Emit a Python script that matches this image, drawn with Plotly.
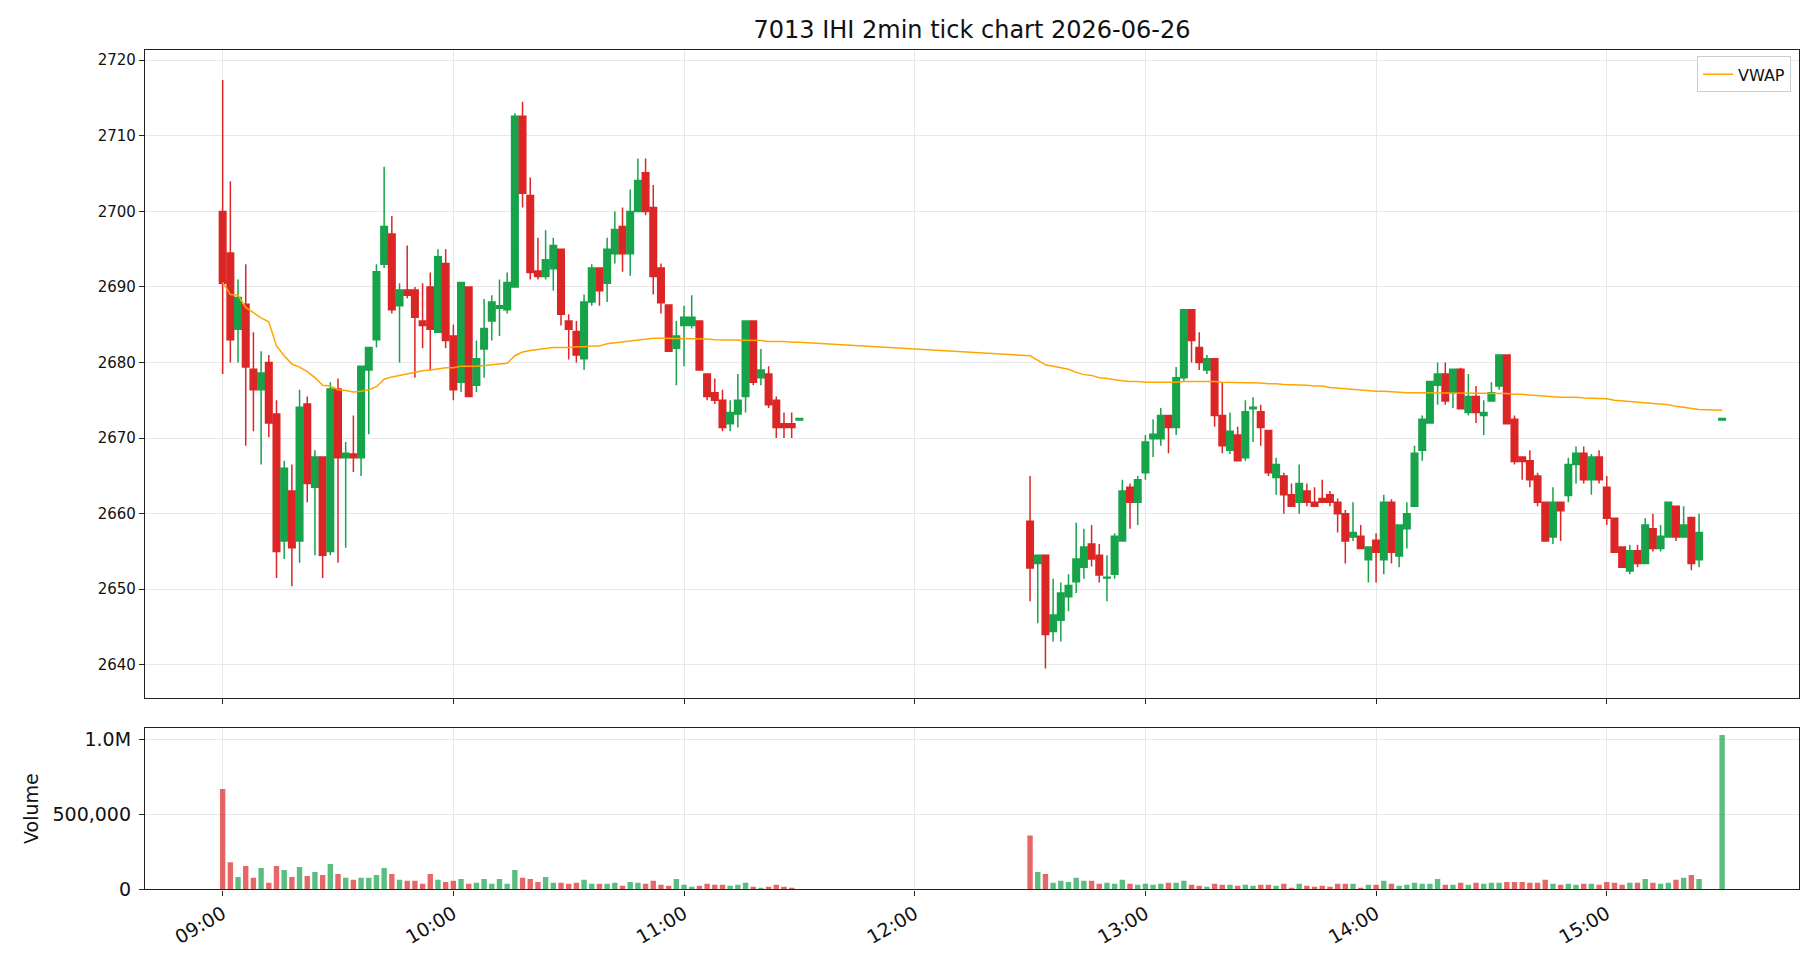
import pandas as pd
import plotly.graph_objects as go

# ---------------- data ----------------
DAY = "2026-06-26"
title_text = "7013 IHI 2min tick chart 2026-06-26"

am_open = [2700.0, 2694.5, 2684.4, 2687.7, 2679.1, 2676.4, 2680.0, 2673.2, 2656.4, 2663.0,
           2656.4, 2674.5, 2663.5, 2667.5, 2655.0, 2676.5, 2667.4, 2667.9, 2667.4, 2679.0,
           2683.0, 2693.0, 2697.0, 2687.5, 2689.6, 2689.6, 2685.5, 2690.0, 2684.0, 2693.1,
           2683.5, 2677.4, 2690.0, 2677.0, 2681.8, 2685.5, 2687.2, 2687.0, 2690.0, 2712.6,
           2702.1, 2692.1, 2691.4, 2692.4, 2695.0, 2685.5, 2684.1, 2680.5, 2688.0, 2692.5,
           2690.5, 2694.4, 2698.0, 2694.4, 2700.0, 2705.1, 2700.5, 2692.5, 2687.6, 2681.9,
           2684.9, 2684.9, 2685.5, 2678.5, 2676.0, 2675.0, 2671.9, 2673.2, 2675.5, 2685.5,
           2678.0, 2678.5, 2675.0, 2671.9, 2671.9, 2672.4]
am_high = [2717.4, 2704.0, 2691.0, 2693.0, 2684.0, 2681.5, 2681.0, 2675.0, 2667.0, 2666.5,
           2676.4, 2675.5, 2668.4, 2667.5, 2677.4, 2677.9, 2669.5, 2673.0, 2679.5, 2682.0,
           2693.0, 2705.9, 2699.4, 2690.5, 2695.5, 2690.0, 2690.5, 2691.9, 2695.0, 2695.0,
           2685.0, 2690.6, 2690.0, 2682.9, 2688.4, 2688.9, 2691.0, 2691.9, 2713.0, 2714.5,
           2704.5, 2696.5, 2697.5, 2696.5, 2695.0, 2686.4, 2685.5, 2689.0, 2693.0, 2692.5,
           2696.5, 2700.0, 2700.5, 2702.9, 2707.0, 2707.0, 2703.5, 2693.1, 2687.6, 2685.5,
           2687.5, 2688.9, 2685.5, 2678.5, 2677.9, 2676.4, 2675.0, 2678.5, 2685.5, 2685.5,
           2681.8, 2679.5, 2675.5, 2673.4, 2673.4, 2672.6]
am_low = [2678.5, 2680.0, 2680.0, 2669.0, 2670.9, 2666.5, 2670.1, 2651.5, 2654.0, 2650.4,
          2653.5, 2661.5, 2654.5, 2651.5, 2654.5, 2653.5, 2655.5, 2665.5, 2665.0, 2670.5,
          2682.0, 2692.5, 2686.5, 2680.0, 2688.5, 2678.0, 2681.9, 2679.0, 2684.0, 2681.9,
          2675.0, 2676.1, 2675.5, 2676.1, 2678.0, 2682.9, 2683.5, 2686.5, 2690.0, 2700.5,
          2691.0, 2691.0, 2691.0, 2689.5, 2684.9, 2680.4, 2680.0, 2679.0, 2687.5, 2687.5,
          2688.0, 2693.1, 2692.0, 2691.5, 2700.0, 2699.5, 2689.0, 2686.5, 2681.5, 2677.0,
          2679.5, 2684.5, 2679.0, 2675.0, 2674.5, 2670.9, 2670.9, 2671.4, 2673.4, 2677.0,
          2677.0, 2674.0, 2670.0, 2670.0, 2670.0, 2672.4]
am_close = [2690.5, 2683.0, 2688.6, 2679.4, 2676.4, 2678.6, 2672.0, 2655.0, 2666.0, 2655.5,
            2674.1, 2664.0, 2667.5, 2654.5, 2676.5, 2667.4, 2668.0, 2667.4, 2679.5, 2682.0,
            2692.0, 2698.0, 2687.0, 2689.6, 2688.9, 2686.0, 2684.9, 2684.4, 2694.0, 2682.9,
            2676.4, 2690.6, 2675.5, 2680.5, 2684.5, 2688.0, 2687.5, 2690.6, 2712.6, 2702.4,
            2691.9, 2691.4, 2693.6, 2695.5, 2686.4, 2684.4, 2681.0, 2688.0, 2692.5, 2689.5,
            2695.0, 2697.6, 2694.4, 2700.0, 2704.1, 2700.0, 2691.4, 2687.9, 2681.5, 2683.5,
            2686.0, 2686.0, 2679.0, 2675.5, 2675.0, 2671.4, 2673.4, 2675.0, 2685.5, 2677.4,
            2679.0, 2674.4, 2671.4, 2671.4, 2671.4, 2672.6]
am_volume = [670000, 182000, 83000, 156000, 77000, 143000, 44000, 156000, 129000, 83000,
             149000, 90000, 116000, 96000, 169000, 103000, 77000, 64000, 77000, 77000,
             96000, 143000, 103000, 64000, 57000, 57000, 37000, 103000, 64000, 50000,
             57000, 70000, 37000, 44000, 70000, 37000, 70000, 37000, 129000, 77000,
             70000, 50000, 83000, 44000, 44000, 37000, 44000, 64000, 37000, 37000,
             37000, 44000, 24000, 50000, 44000, 37000, 57000, 31000, 24000, 70000,
             31000, 18000, 24000, 37000, 31000, 31000, 24000, 31000, 44000, 18000,
             11000, 18000, 31000, 18000, 11000, 3000]
am_vwap = [2690.6, 2689.0, 2688.9, 2687.3, 2686.6, 2685.9, 2685.4, 2682.2, 2680.9, 2679.8,
           2679.4, 2678.8, 2678.0, 2677.0, 2676.9, 2676.4, 2676.3, 2676.1, 2676.2, 2676.4,
           2676.8, 2677.8, 2678.1, 2678.3, 2678.6, 2678.7, 2678.9, 2679.0, 2679.2, 2679.3,
           2679.3, 2679.5, 2679.5, 2679.5, 2679.6, 2679.7, 2679.8, 2679.9, 2680.9, 2681.4,
           2681.6, 2681.7, 2681.8, 2682.0, 2682.0, 2682.0, 2682.1, 2682.1, 2682.2, 2682.2,
           2682.5, 2682.6, 2682.7, 2682.8, 2683.0, 2683.1, 2683.2, 2683.2, 2683.2, 2683.2,
           2683.2, 2683.2, 2683.1, 2683.1, 2683.0, 2683.0, 2683.0, 2683.0, 2682.9, 2682.9,
           2682.9, 2682.8, 2682.8, 2682.8, 2682.7, 2682.7]

pm_open = [2659.0, 2653.4, 2654.5, 2644.4, 2645.9, 2649.0, 2651.0, 2652.9, 2656.0, 2654.5,
           2651.5, 2652.0, 2656.4, 2663.5, 2661.5, 2665.4, 2669.9, 2669.9, 2673.0, 2671.4,
           2678.0, 2687.0, 2682.0, 2679.0, 2680.5, 2673.0, 2668.4, 2670.4, 2667.4, 2673.9,
           2673.5, 2671.0, 2664.8, 2665.0, 2662.5, 2661.5, 2663.0, 2661.5, 2662.0, 2662.5,
           2661.5, 2660.0, 2656.9, 2657.0, 2653.9, 2656.5, 2653.9, 2661.5, 2654.4, 2658.0,
           2661.0, 2668.4, 2672.0, 2677.0, 2678.5, 2676.0, 2679.1, 2673.4, 2675.5, 2673.0,
           2674.9, 2676.9, 2681.0, 2672.5, 2667.5, 2667.0, 2665.0, 2661.5, 2656.9, 2661.5,
           2662.4, 2666.5, 2668.0, 2664.5, 2667.5, 2663.5, 2659.4, 2655.6, 2652.4, 2655.1,
           2653.4, 2658.0, 2655.4, 2656.9, 2661.0, 2656.9, 2659.5, 2653.9, 2672.4]
pm_high = [2665.0, 2654.5, 2654.5, 2651.4, 2650.9, 2652.0, 2658.8, 2658.0, 2658.5, 2656.0,
           2654.5, 2657.4, 2664.5, 2664.0, 2665.0, 2670.4, 2672.5, 2674.0, 2673.0, 2679.4,
           2687.0, 2687.0, 2684.0, 2681.0, 2680.5, 2677.3, 2673.4, 2671.5, 2675.0, 2675.4,
           2674.4, 2671.0, 2667.4, 2665.4, 2664.0, 2666.5, 2664.0, 2663.5, 2664.5, 2663.0,
           2662.0, 2660.5, 2661.5, 2658.5, 2655.6, 2657.4, 2662.5, 2661.9, 2658.5, 2661.5,
           2669.0, 2673.0, 2677.5, 2680.0, 2680.0, 2679.1, 2679.3, 2678.5, 2676.9, 2675.0,
           2677.4, 2681.0, 2681.0, 2673.0, 2667.5, 2668.4, 2665.4, 2661.5, 2663.5, 2661.5,
           2667.4, 2668.9, 2668.9, 2667.9, 2668.4, 2665.0, 2659.4, 2655.6, 2655.9, 2655.9,
           2659.4, 2660.0, 2658.5, 2661.5, 2661.0, 2661.0, 2659.5, 2660.0, 2672.6]
pm_low = [2648.4, 2645.5, 2639.5, 2643.1, 2643.1, 2647.1, 2649.5, 2651.4, 2653.0, 2650.9,
          2648.4, 2651.4, 2656.4, 2658.0, 2658.5, 2664.5, 2667.5, 2669.0, 2668.0, 2670.4,
          2677.6, 2680.0, 2679.0, 2678.5, 2671.5, 2668.0, 2667.9, 2667.0, 2667.0, 2669.5,
          2669.0, 2665.0, 2662.5, 2660.0, 2661.0, 2660.0, 2661.0, 2661.0, 2661.5, 2661.0,
          2657.5, 2653.4, 2656.4, 2655.4, 2650.9, 2650.9, 2652.0, 2653.4, 2652.9, 2655.4,
          2661.0, 2667.0, 2672.0, 2674.4, 2674.4, 2674.0, 2673.9, 2673.0, 2672.0, 2670.4,
          2674.9, 2676.4, 2671.9, 2666.5, 2664.5, 2663.5, 2661.0, 2656.4, 2656.0, 2656.4,
          2661.5, 2664.0, 2664.0, 2662.5, 2664.0, 2658.5, 2654.9, 2652.9, 2652.0, 2652.9,
          2653.4, 2655.0, 2655.0, 2656.9, 2656.4, 2656.9, 2652.5, 2652.9, 2672.4]
pm_close = [2652.8, 2654.5, 2644.0, 2646.6, 2649.5, 2650.5, 2654.0, 2655.6, 2654.0, 2651.9,
            2651.6, 2657.0, 2663.0, 2661.5, 2664.5, 2669.5, 2670.5, 2673.0, 2671.4, 2678.0,
            2687.0, 2682.9, 2680.0, 2680.5, 2673.0, 2669.0, 2670.9, 2667.0, 2673.5, 2674.1,
            2671.4, 2665.4, 2666.5, 2662.5, 2661.0, 2664.0, 2661.5, 2661.0, 2661.5, 2661.5,
            2660.0, 2656.4, 2657.5, 2655.4, 2655.6, 2654.9, 2661.5, 2654.9, 2658.5, 2660.0,
            2668.0, 2672.5, 2677.5, 2678.5, 2674.9, 2679.1, 2673.9, 2675.5, 2673.4, 2673.4,
            2676.0, 2681.0, 2671.9, 2666.9, 2666.9, 2664.5, 2661.5, 2656.4, 2661.5, 2660.4,
            2666.5, 2668.0, 2664.5, 2667.5, 2664.5, 2659.4, 2654.9, 2652.9, 2655.1, 2653.4,
            2658.5, 2655.4, 2657.0, 2661.5, 2656.9, 2658.5, 2653.4, 2657.5, 2672.6]
pm_volume = [360000, 116000, 103000, 44000, 57000, 50000, 77000, 57000, 57000, 37000,
             44000, 37000, 64000, 37000, 31000, 37000, 31000, 37000, 44000, 44000,
             57000, 31000, 24000, 18000, 37000, 31000, 31000, 24000, 31000, 24000,
             31000, 31000, 24000, 37000, 11000, 37000, 24000, 18000, 24000, 18000,
             37000, 37000, 37000, 11000, 31000, 31000, 57000, 37000, 24000, 31000,
             44000, 37000, 37000, 70000, 31000, 31000, 44000, 31000, 44000, 37000,
             44000, 44000, 50000, 50000, 50000, 44000, 44000, 64000, 37000, 31000,
             37000, 31000, 37000, 37000, 31000, 50000, 44000, 31000, 44000, 44000,
             70000, 44000, 37000, 44000, 64000, 77000, 96000, 70000, 1030000]
pm_vwap = [2680.9, 2680.3, 2679.7, 2679.5, 2679.3, 2679.1, 2678.7, 2678.4, 2678.3, 2678.0,
           2677.9, 2677.7, 2677.6, 2677.5, 2677.5, 2677.4, 2677.4, 2677.4, 2677.4, 2677.4,
           2677.5, 2677.5, 2677.5, 2677.5, 2677.5, 2677.4, 2677.4, 2677.4, 2677.4, 2677.3,
           2677.3, 2677.2, 2677.2, 2677.1, 2677.1, 2677.0, 2677.0, 2676.9, 2676.9, 2676.7,
           2676.6, 2676.5, 2676.5, 2676.4, 2676.3, 2676.2, 2676.2, 2676.1, 2676.1, 2676.0,
           2676.0, 2676.0, 2676.0, 2675.9, 2675.9, 2675.9, 2675.9, 2675.9, 2675.9, 2675.9,
           2675.9, 2675.9, 2675.9, 2675.8, 2675.8, 2675.7, 2675.6, 2675.5, 2675.5, 2675.4,
           2675.4, 2675.4, 2675.3, 2675.3, 2675.2, 2675.2, 2675.0, 2674.9, 2674.9, 2674.8,
           2674.7, 2674.6, 2674.5, 2674.4, 2674.2, 2674.1, 2673.9, 2673.8, 2673.7]

vol_tickvals = [0, 500000, 1000000]
vol_ticktext = ["0", "500,000", "1.0M"]
price_ticks = [2640, 2650, 2660, 2670, 2680, 2690, 2700, 2710, 2720]
time_ticks = ["09:00", "10:00", "11:00", "12:00", "13:00", "14:00", "15:00"]

# ---------------- build ----------------
am_times = list(pd.date_range(f"{DAY} 09:00", periods=len(am_open), freq="2min"))
pm_times = list(pd.date_range(f"{DAY} 12:30", periods=len(pm_open) - 1, freq="2min"))
pm_times.append(pd.Timestamp(f"{DAY} 15:30"))
times = am_times + pm_times

o = am_open + pm_open
h = am_high + pm_high
l = am_low + pm_low
c = am_close + pm_close
vol = am_volume + pm_volume
vwap = am_vwap + pm_vwap

UP = "#16a34a"
DOWN = "#dc2626"
UP_V = "rgba(22,163,74,0.7)"
DOWN_V = "rgba(220,38,38,0.7)"
vol_colors = [UP_V if cc >= oo else DOWN_V for oo, cc in zip(o, c)]

FONT = "DejaVu Sans, sans-serif"
W, H = 1820, 980
x0, x1 = 145 / W, 1799 / W
main_dom = [1 - 706 / H, 1 - 51 / H]
vol_dom = [1 - 899.5 / H, 1 - 736 / H]

fig = go.Figure()
fig.add_trace(go.Candlestick(
    x=times, open=o, high=h, low=l, close=c,
    increasing=dict(line=dict(color=UP, width=1.5), fillcolor=UP),
    decreasing=dict(line=dict(color=DOWN, width=1.5), fillcolor=DOWN),
    whiskerwidth=0, showlegend=False, xaxis="x", yaxis="y", name="price"))
fig.add_trace(go.Scatter(
    x=times, y=vwap, mode="lines", name="VWAP",
    line=dict(color="#FFA500", width=1.5), xaxis="x", yaxis="y"))
fig.add_trace(go.Bar(
    x=times, y=vol, marker=dict(color=vol_colors, line=dict(width=0)),
    width=84000, showlegend=False, xaxis="x2", yaxis="y2", name="Volume"))

xr = [f"{DAY} 08:39:48", f"{DAY} 15:50:00"]
grid = "#e8e8e8"


def axis_style(size):
    return dict(showline=True, linecolor="#222", linewidth=1.3, mirror=True,
                ticks="outside", ticklen=5, tickwidth=1.2, tickcolor="#222",
                showgrid=True, gridcolor=grid, gridwidth=1, zeroline=False,
                tickfont=dict(family=FONT, size=size, color="#111"))


tickvals_t = [pd.Timestamp(f"{DAY} {t}") for t in time_ticks]

fig.update_layout(
    width=W, height=H, margin=dict(l=0, r=0, t=0, b=0),
    paper_bgcolor="white", plot_bgcolor="white",
    font=dict(family=FONT, size=15, color="#111"),
    title=dict(text=title_text, x=972 / W, xanchor="center", y=1 - 30 / H, yanchor="middle",
               font=dict(family=FONT, size=24, color="#111")),
    boxgap=0.15, boxgroupgap=0,
    showlegend=True,
    legend=dict(x=1791 / W, y=1 - 57 / H, xanchor="right", yanchor="top",
                bgcolor="rgba(255,255,255,0.9)", bordercolor="#cccccc", borderwidth=1,
                font=dict(family=FONT, size=16, color="#111")),
    xaxis=dict(domain=[x0, x1], anchor="y", range=xr, type="date",
               tickvals=tickvals_t, ticktext=time_ticks, showticklabels=False,
               rangeslider=dict(visible=False), **axis_style(15)),
    xaxis2=dict(domain=[x0, x1], anchor="y2", range=xr, type="date", matches="x",
                tickvals=tickvals_t, ticktext=time_ticks, tickangle=-30, **axis_style(19)),
    yaxis=dict(domain=main_dom, anchor="x", range=[2635.6, 2721.3],
               tickvals=price_ticks, **axis_style(15)),
    yaxis2=dict(domain=vol_dom, anchor="x2", range=[0, 1079000],
                tickvals=vol_tickvals, ticktext=vol_ticktext, ticklabelstandoff=4,
                title=dict(text="Volume", font=dict(family=FONT, size=19, color="#111"), standoff=8),
                **axis_style(19)),
)

fig.write_html("out.html")
